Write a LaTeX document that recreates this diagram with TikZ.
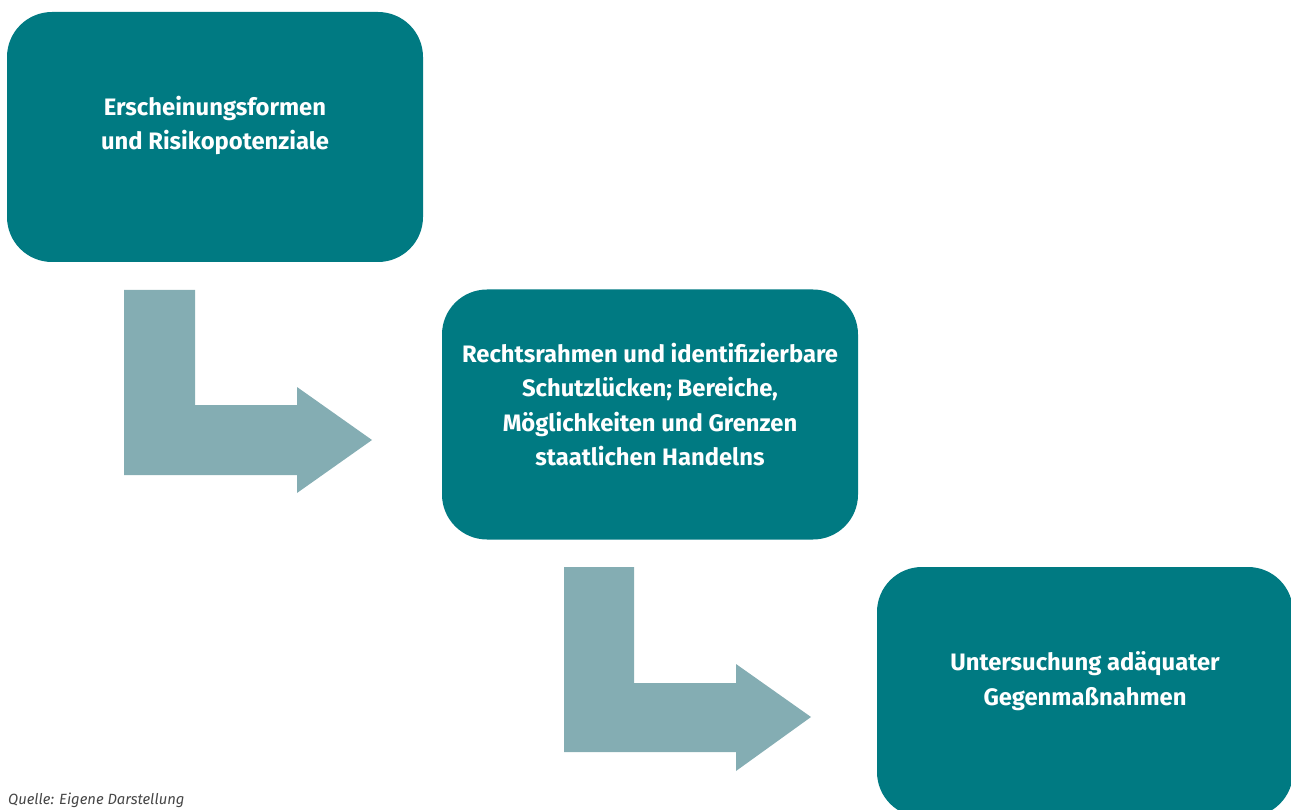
\documentclass[tikz,border=0pt]{standalone}
\usepackage{fontspec}
\setmainfont{Fira Sans}
\definecolor{boxteal}{RGB}{0,122,130}
\definecolor{arrowgray}{RGB}{132,173,179}
\definecolor{captiongray}{RGB}{70,70,70}
\tikzset{
  stepbox/.style={fill=boxteal, draw=none, rounded corners=45pt, minimum width=416pt, minimum height=250pt, inner sep=0pt},
  boxtext/.style={text=white, align=center, font=\fontsize{23.8}{34.5}\selectfont\bfseries, inner sep=0pt},
  bentarrow/.style={fill=arrowgray, draw=none},
  caption/.style={text=captiongray, font=\fontsize{14.8}{17}\selectfont\itshape, inner sep=0pt}
}
\begin{document}
\begin{tikzpicture}[x=1pt,y=-1pt]
\useasboundingbox (0,0) rectangle (1291,810);
\clip (0,0) rectangle (1291,810);
\node[stepbox] (b1) at (215,137) {};
\node[stepbox] (b2) at (650,414.5) {};
\node[stepbox] (b3) at (1085,692) {};
\node[boxtext] (t1) at ([yshift=11.5pt]b1.center) {Erscheinungsformen\\und Risikopotenziale};
\node[boxtext] (t2) at ([yshift=10pt]b2.center) {Rechtsrahmen und identifizierbare\\Schutzlücken; Bereiche,\\Möglichkeiten und Grenzen\\staatlichen Handelns};
\node[boxtext] (t3) at ([yshift=11pt]b3.center) {Untersuchung adäquater\\Gegenmaßnahmen};
\fill[bentarrow] (124,290) -- (195,290) -- (195,405) -- (297,405) -- (297,387) -- (372,440) -- (297,493) -- (297,475) -- (124,475) -- cycle;
\fill[bentarrow] (564,567) -- (634,567) -- (634,683) -- (736,683) -- (736,664) -- (811,717) -- (736,771) -- (736,752) -- (564,752) -- cycle;
\node[caption, anchor=base west] (cap) at (8,804.5) {Quelle: Eigene Darstellung};
\end{tikzpicture}
\end{document}
